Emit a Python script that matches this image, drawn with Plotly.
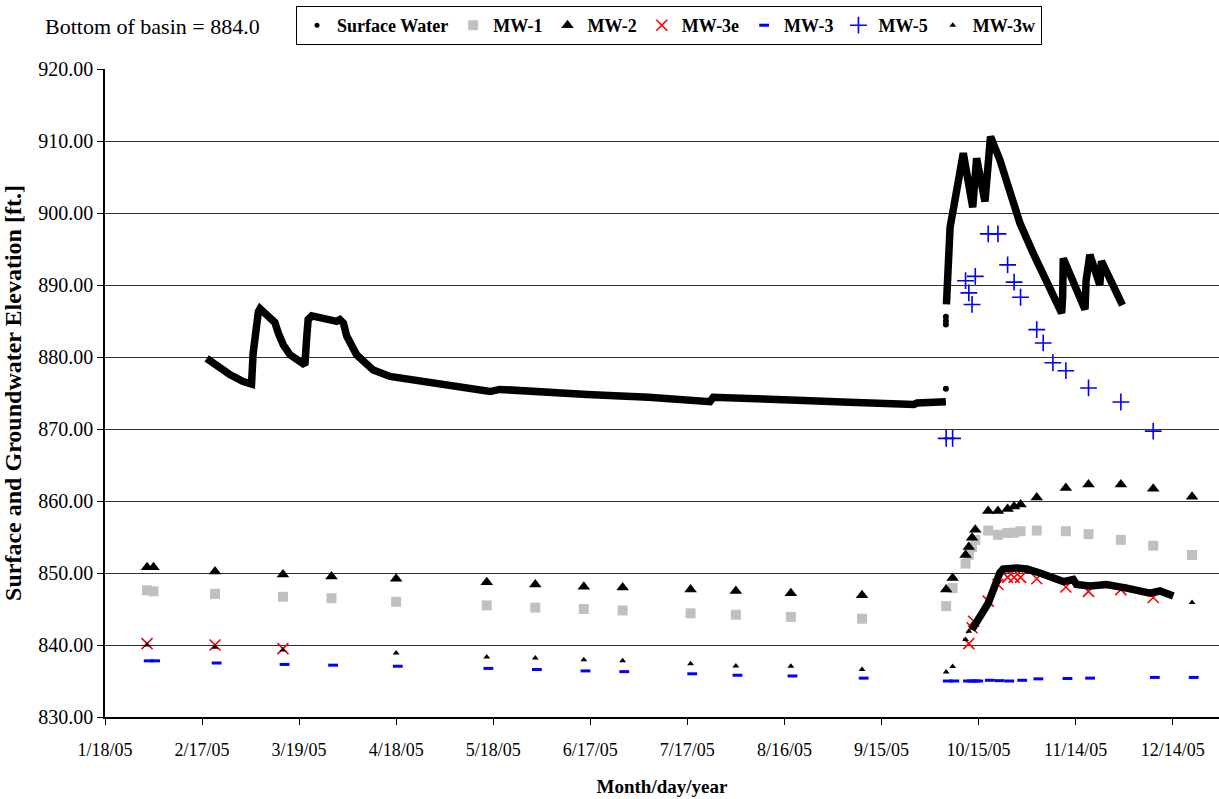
import plotly.graph_objects as go

FONT = "Liberation Serif"

# ---------------- data ----------------
sw_a_dates = ["2005-02-18 10:00", "2005-02-21 12:00", "2005-02-25 14:00", "2005-03-01 17:00",
              "2005-03-04 07:00", "2005-03-04 19:00", "2005-03-05 08:00", "2005-03-05 22:00",
              "2005-03-06 10:00", "2005-03-06 22:00", "2005-03-08 12:00", "2005-03-10 00:00",
              "2005-03-11 12:00", "2005-03-12 14:00", "2005-03-14 02:00", "2005-03-16 05:00",
              "2005-03-19 07:00", "2005-03-20 19:00", "2005-03-21 07:00", "2005-03-21 19:00",
              "2005-03-22 22:00", "2005-03-26 12:00", "2005-03-30 14:00", "2005-03-31 14:00",
              "2005-04-01 17:00", "2005-04-02 17:00", "2005-04-04 05:00", "2005-04-05 19:00",
              "2005-04-08 10:00", "2005-04-10 22:00", "2005-04-16 02:00", "2005-04-24 00:00",
              "2005-05-01 12:00", "2005-05-08 00:00", "2005-05-13 22:00",
              "2005-05-17", "2005-05-20", "2005-06-07", "2005-06-16", "2005-07-05", "2005-07-16",
              "2005-07-24", "2005-07-25", "2005-08-08", "2005-08-20", "2005-09-05", "2005-09-14",
              "2005-09-25", "2005-09-26", "2005-10-04 22:00"]
sw_a_vals = [879.8, 878.7, 877.55, 876.6,
             876.25, 880.55, 882.9, 884.7,
             886.3, 886.7, 886.1, 885.5,
             884.8, 883.3, 881.7, 880.3,
             879.4, 878.9, 882.4, 885.2,
             885.7, 885.4, 884.95, 885.2,
             884.7, 882.9, 881.5, 880.3,
             879.2, 878.2, 877.3, 876.8,
             876.3, 875.8, 875.3,
             875.2, 875.5, 874.9, 874.8, 874.4, 874.0,
             873.8, 874.4, 874.3, 874.0, 873.7, 873.5,
             873.4, 873.6, 873.8]

sw_dot_dates = ["2005-10-04 22:00", "2005-10-04 22:00", "2005-10-04 22:00", "2005-10-04 22:00"]
sw_dot_vals = [875.6, 884.5, 885.0, 885.6]

sw_b_dates = ["2005-10-05 02:00", "2005-10-05 08:00", "2005-10-05 14:00", "2005-10-06 05:00",
              "2005-10-07 05:00", "2005-10-08 17:00", "2005-10-10 07:00", "2005-10-13 05:00",
              "2005-10-14 10:00", "2005-10-17 00:00", "2005-10-18 17:00", "2005-10-21 14:00",
              "2005-10-24 17:00", "2005-10-27 19:00", "2005-10-31 22:00", "2005-11-05 00:00",
              "2005-11-09 17:00", "2005-11-10 00:00", "2005-11-10 05:00", "2005-11-16 22:00",
              "2005-11-17 06:00", "2005-11-18 10:00", "2005-11-21 12:00", "2005-11-22 00:00",
              "2005-11-28 12:00"]
sw_b_vals = [887.3, 891.0, 895.8, 898.0,
             900.5, 904.6, 908.3, 900.8,
             907.6, 901.6, 910.6, 907.4,
             902.8, 898.6, 894.4, 890.7,
             886.1, 888.4, 893.7, 886.6,
             890.6, 894.2, 890.0, 893.3,
             887.2]

well_dates = ["2005-01-31", "2005-02-02", "2005-02-21", "2005-03-14", "2005-03-29", "2005-04-18",
              "2005-05-16", "2005-05-31", "2005-06-15", "2005-06-27", "2005-07-18", "2005-08-01",
              "2005-08-18", "2005-09-09", "2005-10-05", "2005-10-07", "2005-10-11", "2005-10-12",
              "2005-10-13", "2005-10-14", "2005-10-18", "2005-10-21", "2005-10-24", "2005-10-26",
              "2005-10-28", "2005-11-02", "2005-11-11", "2005-11-18", "2005-11-28", "2005-12-08",
              "2005-12-20"]
mw1_vals = [847.6, 847.45, 847.1, 846.7, 846.5, 846.0,
            845.5, 845.2, 845.0, 844.8, 844.4, 844.2,
            843.9, 843.65, 845.4, 847.9, 851.3, 852.55,
            853.6, 854.6, 855.9, 855.3, 855.55, 855.6,
            855.8, 855.9, 855.8, 855.4, 854.6, 853.8,
            852.5]
mw2_vals = [850.8, 850.8, 850.2, 849.8, 849.5, 849.2,
            848.7, 848.4, 848.1, 848.0, 847.7, 847.5,
            847.2, 846.9, 847.7, 849.3, 852.5, 853.6,
            854.9, 856.0, 858.6, 858.6, 858.9, 859.25,
            859.5, 860.5, 861.8, 862.3, 862.3, 861.7,
            860.6]

mw3e_dates = ["2005-01-31", "2005-02-21", "2005-03-14", "2005-10-12", "2005-10-13", "2005-10-13 12:00",
              "2005-10-18", "2005-10-21", "2005-10-24", "2005-10-26", "2005-10-28", "2005-11-02",
              "2005-11-11", "2005-11-18", "2005-11-28", "2005-12-08"]
mw3e_vals = [840.2, 840.0, 839.5, 840.2, 842.4, 843.3,
             846.1, 848.4, 849.4, 849.4, 849.4, 849.2,
             848.05, 847.45, 847.7, 846.6]

mw3_dates = ["2005-01-31 12:00", "2005-02-02 12:00", "2005-02-21 12:00", "2005-03-14 12:00",
             "2005-03-29 12:00", "2005-04-18 12:00", "2005-05-16 12:00", "2005-05-31 12:00",
             "2005-06-15 12:00", "2005-06-27 12:00", "2005-07-18 12:00", "2005-08-01 12:00",
             "2005-08-18 12:00", "2005-09-09 12:00", "2005-10-05 12:00", "2005-10-07 12:00",
             "2005-10-11 18:00", "2005-10-12 22:00", "2005-10-13 22:00", "2005-10-14 22:00",
             "2005-10-18 12:00", "2005-10-21 12:00", "2005-10-24 12:00", "2005-10-28 12:00",
             "2005-11-02 12:00", "2005-11-11 12:00", "2005-11-18 12:00", "2005-12-08 12:00",
             "2005-12-20 12:00"]
mw3_vals = [837.8, 837.8, 837.5, 837.3,
            837.2, 837.05, 836.75, 836.6,
            836.4, 836.3, 836.0, 835.8,
            835.7, 835.4, 835.0, 835.0,
            835.0, 835.0, 835.0, 835.0,
            835.1, 835.05, 835.0, 835.1,
            835.3, 835.35, 835.4, 835.5,
            835.5]

mw5_dates = ["2005-10-05", "2005-10-07", "2005-10-11", "2005-10-12", "2005-10-13", "2005-10-14",
             "2005-10-18", "2005-10-21", "2005-10-24", "2005-10-26", "2005-10-28", "2005-11-02",
             "2005-11-04", "2005-11-07", "2005-11-11", "2005-11-18", "2005-11-28", "2005-12-08"]
mw5_vals = [868.7, 868.7, 890.6, 888.9, 887.3, 891.2,
            897.1, 897.1, 892.8, 890.4, 888.3, 883.8,
            881.95, 879.2, 878.1, 875.7, 873.75, 869.7]

mw3w_dates = ["2005-01-31", "2005-02-21", "2005-03-14", "2005-04-18", "2005-05-16", "2005-05-31",
              "2005-06-15", "2005-06-27", "2005-07-18", "2005-08-01", "2005-08-18", "2005-09-09",
              "2005-10-05", "2005-10-07", "2005-10-11", "2005-10-12", "2005-12-20"]
mw3w_vals = [840.0, 839.7, 839.3, 838.9, 838.35, 838.2,
             837.95, 837.8, 837.4, 837.1, 837.05, 836.6,
             836.25, 837.0, 840.75, 841.9, 845.9]

mw3w_log_dates = ["2005-10-12 22:00", "2005-10-18 00:00", "2005-10-21 14:00", "2005-10-22 14:00",
                  "2005-10-26 19:00", "2005-10-29 22:00", "2005-11-03 00:00", "2005-11-10 05:00",
                  "2005-11-13 07:00", "2005-11-14 07:00", "2005-11-18 10:00", "2005-11-23 14:00",
                  "2005-11-29 19:00", "2005-12-07 00:00", "2005-12-10 02:00", "2005-12-14 05:00"]
mw3w_log_vals = [842.1, 845.8, 850.0, 850.55,
                 850.7, 850.55, 850.0, 848.8,
                 849.1, 848.4, 848.2, 848.4,
                 847.9, 847.2, 847.5, 846.8]

tick_dates = ["2005-01-18", "2005-02-17", "2005-03-19", "2005-04-18", "2005-05-18", "2005-06-17",
              "2005-07-17", "2005-08-16", "2005-09-15", "2005-10-15", "2005-11-14", "2005-12-14"]
tick_labels = ["1/18/05", "2/17/05", "3/19/05", "4/18/05", "5/18/05", "6/17/05",
               "7/17/05", "8/16/05", "9/15/05", "10/15/05", "11/14/05", "12/14/05"]

# ---------------- figure ----------------
fig = go.Figure()
LW = 7.5

fig.add_trace(go.Scatter(x=sw_a_dates, y=sw_a_vals, mode="lines",
                         line=dict(color="black", width=LW), showlegend=False))
fig.add_trace(go.Scatter(x=sw_dot_dates, y=sw_dot_vals, mode="markers",
                         marker=dict(color="black", size=6), showlegend=False))
fig.add_trace(go.Scatter(x=sw_b_dates, y=sw_b_vals, mode="lines",
                         line=dict(color="black", width=LW), showlegend=False))
fig.add_trace(go.Scatter(x=[None], y=[None], mode="markers", name="Surface Water",
                         marker=dict(color="black", size=5)))

fig.add_trace(go.Scatter(x=well_dates, y=mw1_vals, mode="markers", name="MW-1",
                         marker=dict(symbol="square", color="#C0C0C0", size=10)))
fig.add_trace(go.Scatter(x=well_dates, y=mw2_vals, mode="markers", name="MW-2",
                         marker=dict(symbol="triangle-up", color="black", size=11)))
fig.add_trace(go.Scatter(x=mw3e_dates, y=mw3e_vals, mode="markers", name="MW-3e",
                         marker=dict(symbol="x-thin-open", color="red", size=11,
                                     line=dict(color="red", width=1.6))))
fig.add_trace(go.Scatter(x=mw3_dates, y=mw3_vals, mode="markers", name="MW-3",
                         marker=dict(symbol="line-ew-open", color="blue", size=7,
                                     line=dict(color="blue", width=3))))
fig.add_trace(go.Scatter(x=mw5_dates, y=mw5_vals, mode="markers", name="MW-5",
                         marker=dict(symbol="cross-thin-open", color="blue", size=12,
                                     line=dict(color="blue", width=1.6))))
fig.add_trace(go.Scatter(x=mw3w_log_dates, y=mw3w_log_vals, mode="lines",
                         line=dict(color="black", width=LW), showlegend=False))
fig.add_trace(go.Scatter(x=mw3w_dates, y=mw3w_vals, mode="markers", name="MW-3w",
                         marker=dict(symbol="triangle-up", color="black", size=6)))

fig.update_layout(
    width=1219, height=799,
    margin=dict(l=105, r=0, t=69, b=82),
    paper_bgcolor="white", plot_bgcolor="white",
    font=dict(family=FONT, color="black", size=18),
    showlegend=True,
    legend=dict(orientation="h", xref="container", yref="container",
                x=669 / 1219, y=1 - 6 / 799, xanchor="center", yanchor="top",
                bordercolor="black", borderwidth=1, bgcolor="white",
                font=dict(family=FONT, size=18, weight="bold"),
                itemwidth=30, tracegroupgap=0),
    xaxis=dict(type="date", range=["2005-01-18", "2005-12-28 08:00"],
               tickvals=tick_dates, ticktext=tick_labels,
               showgrid=False, zeroline=False,
               showline=True, linecolor="black", linewidth=1.5,
               ticks="outside", ticklen=6, tickcolor="black",
               ticklabelstandoff=10,
               tickfont=dict(family=FONT, size=18),
               title=dict(text="Month/day/year", standoff=20,
                          font=dict(family=FONT, size=19, weight="bold"))),
    yaxis=dict(range=[830, 920], dtick=10, tick0=830, tickformat=".2f",
               showgrid=True, gridcolor="#333333", gridwidth=1,
               zeroline=False, showline=True, linecolor="black", linewidth=1.5,
               ticks="outside", ticklen=6, tickcolor="black",
               tickfont=dict(family=FONT, size=20),
               title=dict(text="Surface and Groundwater Elevation [ft.]", standoff=10,
                          font=dict(family=FONT, size=24, weight="bold"))),
    annotations=[dict(text="Bottom of basin = 884.0", xref="paper", yref="paper",
                      x=(43 - 105) / 1114, y=1 + (69 - 27) / 648, xanchor="left", yanchor="middle",
                      showarrow=False, font=dict(family=FONT, size=22))],
)

fig.write_html("out.html")
